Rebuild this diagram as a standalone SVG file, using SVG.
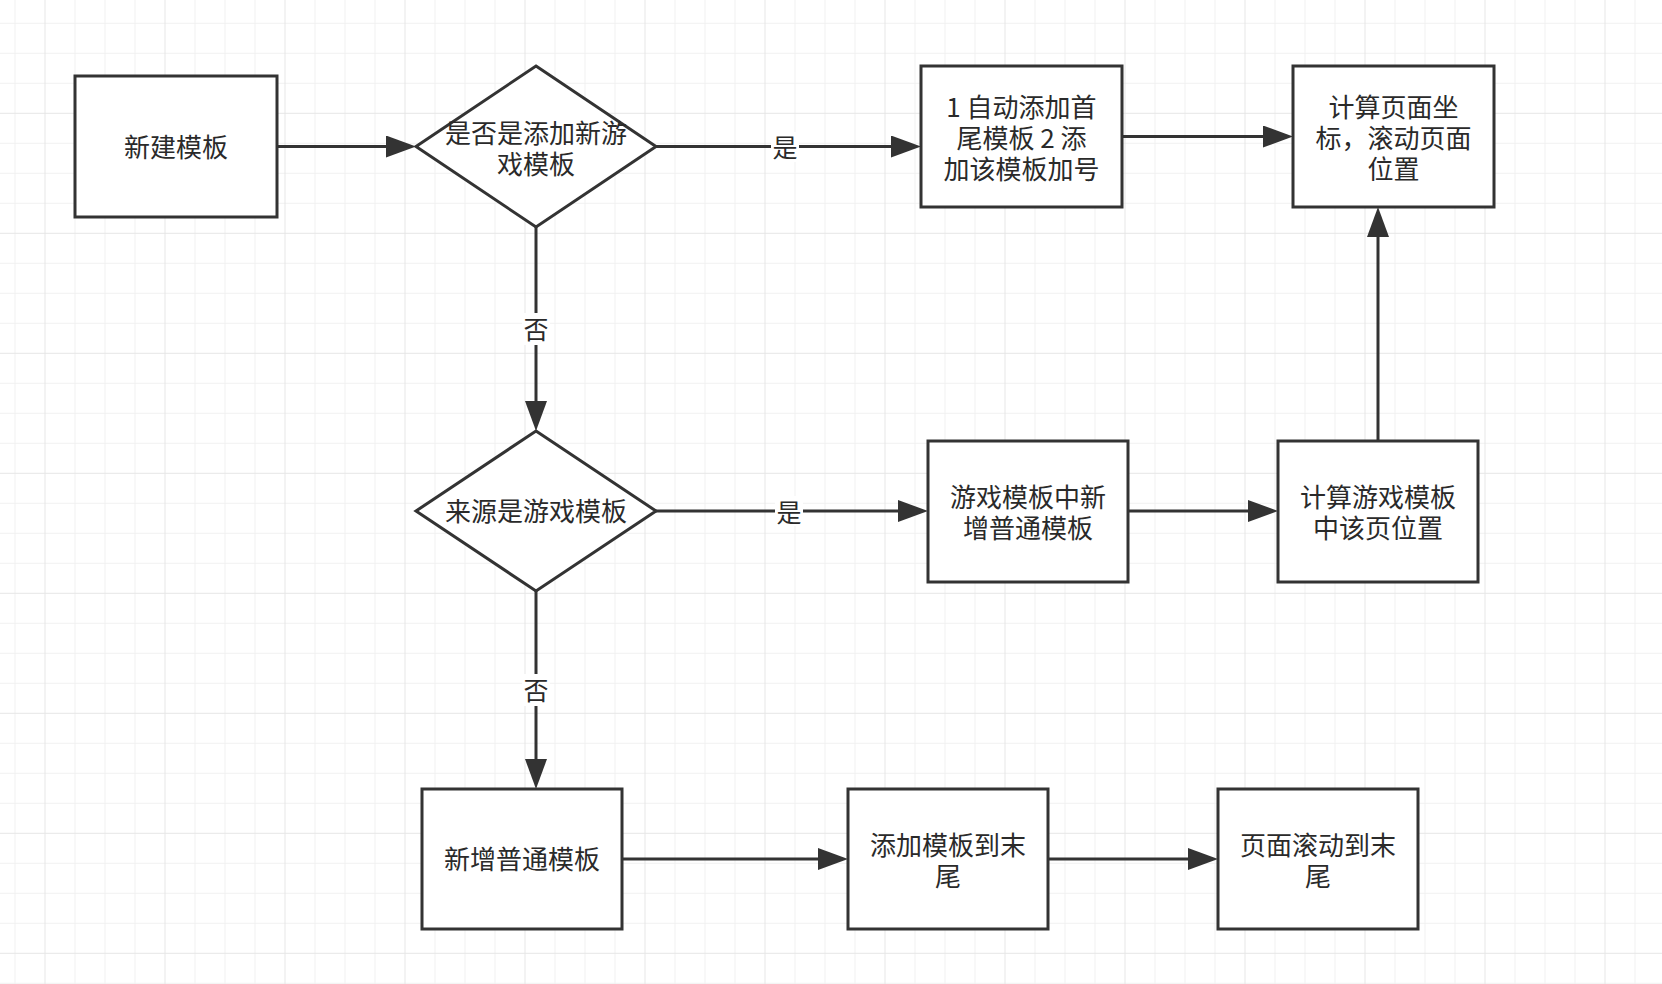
<svg xmlns="http://www.w3.org/2000/svg" width="1662" height="984" viewBox="0 0 1662 984">
  <style>
    .node { fill: #ffffff; stroke: #333333; stroke-width: 3; }
    .edge { fill: none; stroke: #333333; stroke-width: 3; }
    .txt { font-family: "Noto Sans CJK SC", "Noto Sans", sans-serif; font-size: 26px; fill: #2a2a2a; text-anchor: middle; dominant-baseline: central; }
    .lbl { font-family: "Noto Sans CJK SC", "Noto Sans", sans-serif; font-size: 25px; fill: #2a2a2a; text-anchor: middle; dominant-baseline: central; }
    .lblbg { fill: #ffffff; stroke: none; }
  </style>
  <defs>
    <pattern id="grid" patternUnits="userSpaceOnUse" x="44.5" y="112.8" width="120" height="120">
      <rect x="30" y="0" width="1" height="120" fill="#f1f1f1"/>
      <rect x="60" y="0" width="1" height="120" fill="#f1f1f1"/>
      <rect x="90" y="0" width="1" height="120" fill="#f1f1f1"/>
      <rect x="0" y="30" width="120" height="1" fill="#f1f1f1"/>
      <rect x="0" y="60" width="120" height="1" fill="#f1f1f1"/>
      <rect x="0" y="90" width="120" height="1" fill="#f1f1f1"/>
      <rect x="0" y="0" width="1" height="120" fill="#e6e6e6"/>
      <rect x="0" y="0" width="120" height="1" fill="#e6e6e6"/>
    </pattern>
    <marker id="arrow" markerUnits="userSpaceOnUse" markerWidth="31" markerHeight="23" refX="0" refY="11" orient="auto">
      <path d="M0,0 L30,11 L0,22 Z" fill="#333333"/>
    </marker>
  </defs>

  <rect x="0" y="0" width="1662" height="984" fill="#ffffff"/>
  <rect x="0" y="0" width="1662" height="984" fill="url(#grid)"/>

  <g id="connectors">
    <path class="edge" d="M277,146.5 H386" marker-end="url(#arrow)"/>
    <path class="edge" d="M656,146.5 H891" marker-end="url(#arrow)"/>
    <path class="edge" d="M1122,136.5 H1263" marker-end="url(#arrow)"/>
    <path class="edge" d="M536,227 V401" marker-end="url(#arrow)"/>
    <path class="edge" d="M656,511 H898" marker-end="url(#arrow)"/>
    <path class="edge" d="M1128,511 H1248" marker-end="url(#arrow)"/>
    <path class="edge" d="M1378,441 V237" marker-end="url(#arrow)"/>
    <path class="edge" d="M536,591 V759" marker-end="url(#arrow)"/>
    <path class="edge" d="M622,859 H818" marker-end="url(#arrow)"/>
    <path class="edge" d="M1048,859 H1188" marker-end="url(#arrow)"/>
    <g id="edge-labels">
      <rect class="lblbg" x="771" y="132" width="28" height="30"/>
      <text class="lbl" x="785" y="146">是</text>
      <rect class="lblbg" x="775" y="496" width="28" height="30"/>
      <text class="lbl" x="789" y="510.5">是</text>
      <rect class="lblbg" x="522" y="313" width="28" height="32"/>
      <text class="lbl" x="536" y="327.5">否</text>
      <rect class="lblbg" x="522" y="674" width="28" height="32"/>
      <text class="lbl" x="536" y="688.5">否</text>
    </g>
  </g>

  <g id="node-new-template">
    <rect class="node" x="75" y="76" width="202" height="141"/>
    <text class="txt" x="176" y="145">新建模板</text>
  </g>

  <g id="node-decision-game">
    <polygon class="node" points="536,66 656,146.5 536,227 416,146.5"/>
    <text class="txt" x="536" y="130.5"><tspan x="536">是否是添加新游</tspan><tspan x="536" dy="31">戏模板</tspan></text>
  </g>

  <g id="node-auto-add">
    <rect class="node" x="921" y="66" width="201" height="141"/>
    <text class="txt" x="1021.5" y="104.5" xml:space="preserve"><tspan x="1021.5">1 自动添加首</tspan><tspan x="1021.5" dy="31">尾模板 2 添</tspan><tspan x="1021.5" dy="31">加该模板加号</tspan></text>
  </g>

  <g id="node-calc-coords">
    <rect class="node" x="1293" y="66" width="201" height="141"/>
    <text class="txt" x="1393.5" y="104.5"><tspan x="1393.5">计算页面坐</tspan><tspan x="1393.5" dy="31">标，滚动页面</tspan><tspan x="1393.5" dy="31">位置</tspan></text>
  </g>

  <g id="node-decision-source">
    <polygon class="node" points="536,431 656,511 536,591 416,511"/>
    <text class="txt" x="536" y="509.5">来源是游戏模板</text>
  </g>

  <g id="node-add-in-game">
    <rect class="node" x="928" y="441" width="200" height="141"/>
    <text class="txt" x="1028" y="494.5"><tspan x="1028">游戏模板中新</tspan><tspan x="1028" dy="31">增普通模板</tspan></text>
  </g>

  <g id="node-calc-game-pos">
    <rect class="node" x="1278" y="441" width="200" height="141"/>
    <text class="txt" x="1378" y="494.5"><tspan x="1378">计算游戏模板</tspan><tspan x="1378" dy="31">中该页位置</tspan></text>
  </g>

  <g id="node-add-normal">
    <rect class="node" x="422" y="789" width="200" height="140"/>
    <text class="txt" x="522" y="857.5">新增普通模板</text>
  </g>

  <g id="node-add-to-end">
    <rect class="node" x="848" y="789" width="200" height="140"/>
    <text class="txt" x="948" y="842.5"><tspan x="948">添加模板到末</tspan><tspan x="948" dy="31">尾</tspan></text>
  </g>

  <g id="node-scroll-to-end">
    <rect class="node" x="1218" y="789" width="200" height="140"/>
    <text class="txt" x="1318" y="842.5"><tspan x="1318">页面滚动到末</tspan><tspan x="1318" dy="31">尾</tspan></text>
  </g>
</svg>
